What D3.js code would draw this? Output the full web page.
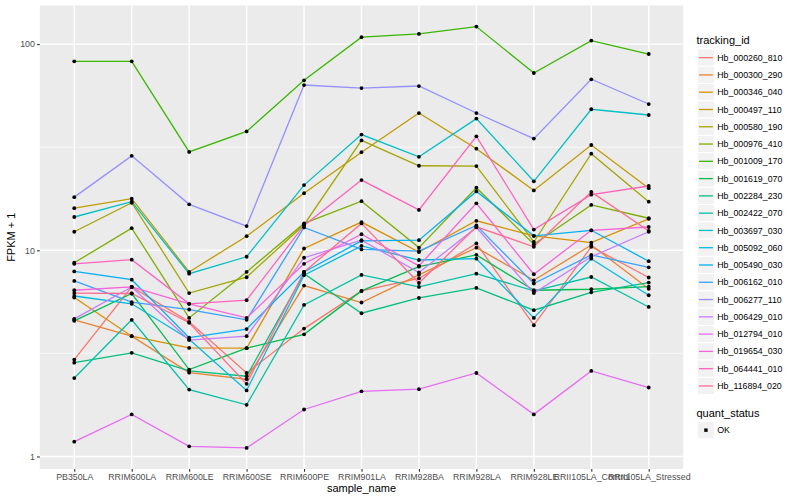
<!DOCTYPE html>
<html>
<head>
<meta charset="utf-8">
<script src="https://cdn.jsdelivr.net/npm/d3@7"></script>
<style>
  html, body { margin: 0; padding: 0; background: #fff; }
  svg { display: block; font-family: "Liberation Sans", Arial, sans-serif; }
</style>
</head>
<body>
<svg id="chart" width="800" height="500"></svg>
<script>
// ---------- data ----------
const samples = ["PB350LA","RRIM600LA","RRIM600LE","RRIM600SE","RRIM600PE","RRIM901LA","RRIM928BA","RRIM928LA","RRIM928LE","RRII105LA_Control","RRII105LA_Stressed"];
const trackingIds = ["Hb_000260_810","Hb_000300_290","Hb_000346_040","Hb_000497_110","Hb_000580_190","Hb_000976_410","Hb_001009_170","Hb_001619_070","Hb_002284_230","Hb_002422_070","Hb_003697_030","Hb_005092_060","Hb_005490_030","Hb_006162_010","Hb_006277_110","Hb_006429_010","Hb_012794_010","Hb_019654_030","Hb_064441_010","Hb_116894_020"];
const yTicks = [1, 10, 100];
const quantStatus = ["OK"];

// FPKM + 1 per sample, in sample order
const hb_000260_810 = [2.95, 6.64, 4.5, 2.54, 4.17, 6.35, 7.3, 10.8, 4.33, 10.4, 7.38];
const hb_000300_290 = [4.6, 3.83, 2.55, 2.37, 6.74, 5.58, 7.6, 10.3, 7.15, 10.6, 6.5];
const hb_000346_040 = [5.9, 3.83, 3.36, 3.35, 10.2, 13.7, 9.8, 13.9, 11.75, 10.9, 14.2];
const hb_000497_110 = [16.0, 17.8, 7.85, 11.7, 18.9, 29.9, 46.3, 31.1, 19.5, 32.4, 20.0];
const hb_000580_190 = [12.3, 17.0, 6.2, 7.4, 13.3, 34.1, 25.7, 25.6, 10.97, 29.4, 17.2];
const hb_000976_410 = [8.7, 12.8, 4.7, 7.85, 13.5, 17.3, 10.3, 20.1, 10.7, 16.6, 14.3];
const hb_001009_170 = [82.5, 82.5, 30, 37.7, 66.7, 108, 112, 121.6, 72.4, 104, 89.5];
const hb_001619_070 = [4.55, 6.17, 2.64, 3.35, 3.91, 6.35, 8.33, 9.5, 6.4, 6.47, 6.67];
const hb_002284_230 = [2.85, 3.18, 2.6, 2.45, 7.7, 4.95, 5.87, 6.57, 5.12, 6.25, 6.97];
const hb_002422_070 = [2.4, 4.6, 2.11, 1.78, 5.43, 7.59, 6.64, 7.7, 6.35, 7.42, 5.31];
const hb_003697_030 = [14.5, 17.2, 7.7, 9.3, 20.7, 36.4, 28.4, 43.5, 21.6, 48.3, 45.3];
const hb_005092_060 = [6.0, 5.5, 3.7, 2.09, 7.57, 10.5, 8.97, 9.1, 4.7, 9.1, 6.05];
const hb_005490_030 = [7.9, 7.2, 3.77, 4.15, 7.85, 11.1, 11.2, 19.3, 11.75, 12.5, 8.85];
const hb_006162_010 = [7.1, 5.6, 5.16, 4.6, 12.9, 10.1, 9.9, 13.2, 6.9, 9.5, 8.27];
const hb_006277_110 = [18.1, 28.7, 16.7, 13.1, 63.3, 61.2, 62.6, 46.3, 34.8, 67.5, 51.2];
const hb_006429_010 = [4.65, 6.64, 3.67, 3.83, 9.2, 11.2, 7.8, 12.9, 6.2, 9.3, 12.3];
const hb_012794_010 = [1.18, 1.6, 1.12, 1.1, 1.69, 2.07, 2.12, 2.54, 1.6, 2.6, 2.16];
const hb_019654_030 = [6.4, 6.64, 5.5, 4.7, 8.6, 11.96, 8.4, 16.9, 7.65, 12.5, 12.97];
const hb_064441_010 = [8.6, 9.0, 5.5, 5.73, 13.2, 21.9, 15.7, 35.7, 12.6, 18.6, 20.5];
const hb_116894_020 = [6.2, 6.17, 4.45, 2.25, 7.85, 13.5, 6.94, 13.0, 10.4, 19.2, 12.4];

const seriesValues = [hb_000260_810, hb_000300_290, hb_000346_040, hb_000497_110, hb_000580_190,
  hb_000976_410, hb_001009_170, hb_001619_070, hb_002284_230, hb_002422_070, hb_003697_030,
  hb_005092_060, hb_005490_030, hb_006162_010, hb_006277_110, hb_006429_010, hb_012794_010,
  hb_019654_030, hb_064441_010, hb_116894_020];

// ggplot2 default hue palette for 20 levels
const palette = ["#F8766D","#EA8331","#D89000","#C09B00","#A3A500","#7CAE00","#39B600","#00BB4E","#00BF7D","#00C1A3","#00BFC4","#00BAE0","#00B0F6","#35A2FF","#9590FF","#C77CFF","#E76BF3","#FA62DB","#FF62BC","#FF6C91"];

// ---------- layout ----------
const W = 800, H = 500;
const panel = { left: 39.8, right: 683.2, top: 5.5, bottom: 469 };
const svg = d3.select("#chart");
svg.append("rect").attr("width", W).attr("height", H).attr("fill", "#fff");

const series = trackingIds.map((id, i) => ({
  id, color: palette[i],
  values: seriesValues[i].map((v, j) => ({ sample: samples[j], value: v }))
}));

// scales (ggplot-like 5% expansion in log space)
const all = seriesValues.flat();
const lmin = Math.log10(d3.min(all)), lmax = Math.log10(d3.max(all));
const ex = (lmax - lmin) * 0.05;
const y = d3.scaleLog().domain([Math.pow(10, lmin - ex), Math.pow(10, lmax + ex)])
  .range([panel.bottom, panel.top]);
const x = d3.scalePoint().domain(samples).range([panel.left, panel.right]).padding(0.6);

// panel background
svg.append("rect").attr("x", panel.left).attr("y", panel.top)
  .attr("width", panel.right - panel.left).attr("height", panel.bottom - panel.top)
  .attr("fill", "#EBEBEB");

const grid = svg.append("g");
// minor horizontal grid (midpoints in log space)
const minorTicks = [Math.pow(10, 0.5), Math.pow(10, 1.5)];
grid.selectAll(".minor").data(minorTicks).enter().append("line")
  .attr("x1", panel.left).attr("x2", panel.right)
  .attr("y1", d => y(d)).attr("y2", d => y(d))
  .attr("stroke", "#fff").attr("stroke-width", 0.7);
grid.selectAll(".major").data(yTicks).enter().append("line")
  .attr("x1", panel.left).attr("x2", panel.right)
  .attr("y1", d => y(d)).attr("y2", d => y(d))
  .attr("stroke", "#fff").attr("stroke-width", 1.4);
grid.selectAll(".vmajor").data(samples).enter().append("line")
  .attr("y1", panel.top).attr("y2", panel.bottom)
  .attr("x1", d => x(d)).attr("x2", d => x(d))
  .attr("stroke", "#fff").attr("stroke-width", 1.4);

// lines
const line = d3.line().x(d => x(d.sample)).y(d => y(d.value));
svg.append("g").selectAll("path").data(series).enter().append("path")
  .attr("d", d => line(d.values))
  .attr("fill", "none").attr("stroke", d => d.color).attr("stroke-width", 1.3);

// points
svg.append("g").selectAll("g").data(series).enter().append("g")
  .selectAll("circle").data(d => d.values).enter().append("circle")
  .attr("cx", d => x(d.sample)).attr("cy", d => y(d.value))
  .attr("r", 1.9).attr("fill", "#000");

// axes
const yAxis = d3.axisLeft(y).tickValues(yTicks).tickFormat(d3.format("d")).tickSize(2.75).tickPadding(2.2);
const gy = svg.append("g").attr("transform", `translate(${panel.left},0)`).call(yAxis);
const xAxis = d3.axisBottom(x).tickSize(2.75).tickPadding(2.2);
const gx = svg.append("g").attr("transform", `translate(0,${panel.bottom})`).call(xAxis);
[gy, gx].forEach(g => {
  g.select(".domain").remove();
  g.selectAll(".tick line").attr("stroke", "#333333").attr("stroke-width", 1.1);
  g.selectAll(".tick text").attr("fill", "#4D4D4D").attr("font-size", "8.8px")
    .attr("font-family", "Liberation Sans, Arial, sans-serif");
});

// axis titles
svg.append("text").attr("x", (panel.left + panel.right) / 2).attr("y", 492)
  .attr("text-anchor", "middle").attr("font-size", "11px").attr("fill", "#000").text("sample_name");
svg.append("text").attr("transform", `translate(15,${(panel.top + panel.bottom) / 2}) rotate(-90)`)
  .attr("text-anchor", "middle").attr("font-size", "11px").attr("fill", "#000").text("FPKM + 1");

// legend: tracking_id
const lg = svg.append("g");
const keyX = 697.3, keyW = 17.28, key0 = 49.0;
lg.append("text").attr("x", 696.5).attr("y", 44).attr("font-size", "11px").attr("fill", "#000").text("tracking_id");
const items = lg.selectAll("g.item").data(series).enter().append("g")
  .attr("transform", (d, i) => `translate(${keyX},${key0 + i * keyW})`);
items.append("rect").attr("width", keyW).attr("height", keyW).attr("fill", "#F2F2F2")
  .attr("stroke", "#fff").attr("stroke-width", 1);
items.append("line").attr("x1", 1.7).attr("x2", keyW - 1.7).attr("y1", keyW / 2).attr("y2", keyW / 2)
  .attr("stroke", d => d.color).attr("stroke-width", 1.3);
items.append("text").attr("x", keyW + 2.2 + 0.5).attr("y", keyW / 2).attr("dy", "0.35em")
  .attr("font-size", "8.8px").attr("fill", "#000").text(d => d.id);

// legend: quant_status
const qg = svg.append("g");
qg.append("text").attr("x", 696.5).attr("y", 417).attr("font-size", "11px").attr("fill", "#000").text("quant_status");
const qItems = qg.selectAll("g").data(quantStatus).enter().append("g")
  .attr("transform", (d, i) => `translate(${keyX},${421.5 + i * keyW})`);
qItems.append("rect").attr("width", keyW).attr("height", keyW).attr("fill", "#F2F2F2")
  .attr("stroke", "#fff").attr("stroke-width", 1);
qItems.append("rect").attr("x", keyW / 2 - 1.7).attr("y", keyW / 2 - 1.7).attr("width", 3.4).attr("height", 3.4).attr("fill", "#000");
qItems.append("text").attr("x", keyW + 2.7).attr("y", keyW / 2).attr("dy", "0.35em")
  .attr("font-size", "8.8px").attr("fill", "#000").text(d => d);
</script>
</body>
</html>
